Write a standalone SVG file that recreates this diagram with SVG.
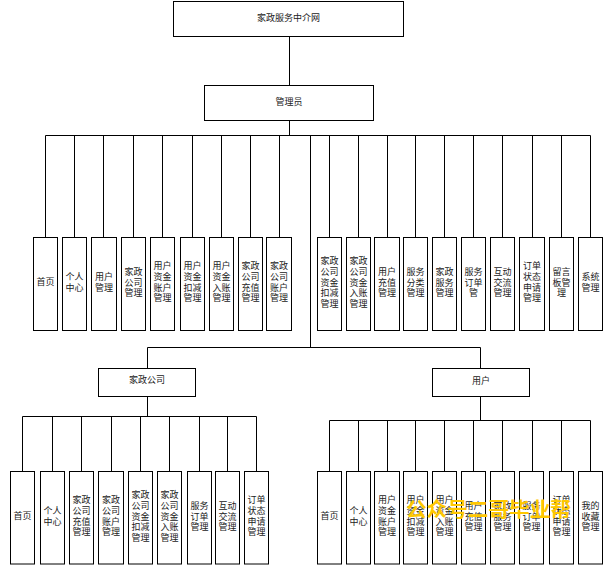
<svg xmlns="http://www.w3.org/2000/svg" width="605" height="566" viewBox="0 0 605 566">
<style>
rect{fill:#fff;stroke:#000;stroke-width:1}
text{font-family:"Noto Sans CJK SC","Noto Sans CJK TC",sans-serif;font-size:9px;fill:#222;text-anchor:middle;dominant-baseline:central}
#connectors path{fill:none;stroke:#000;stroke-width:1}
.wm{font-size:20px;font-weight:bold;fill:#ffc800;text-anchor:start;dominant-baseline:auto}
</style>
<rect x="0" y="0" width="605" height="566" style="stroke:none"/>
<g id="connectors">
<path d="M289.5 36.5V85.5M289.5 120.5V135.5M45.5 135.5H590.5"/>
<path d="M45.5 135.5V237.5M74.5 135.5V237.5M103.5 135.5V237.5M133.5 135.5V237.5M162.5 135.5V237.5M192.5 135.5V237.5M221.5 135.5V237.5M250.5 135.5V237.5M279.5 135.5V237.5M329.5 135.5V237.5M358.5 135.5V237.5M387.5 135.5V237.5M415.5 135.5V237.5M444.5 135.5V237.5M473.5 135.5V237.5M502.5 135.5V237.5M532.5 135.5V237.5M561.5 135.5V237.5M590.5 135.5V237.5"/>
<path d="M310.5 135.5V347.5M147.5 347.5H480.5M147.5 347.5V368.5M480.5 347.5V368.5"/>
<path d="M147.5 396.5V416.5M22.5 416.5H256.5M22.5 416.5V471.5M52.5 416.5V471.5M81.5 416.5V471.5M111.5 416.5V471.5M140.5 416.5V471.5M169.5 416.5V471.5M199.5 416.5V471.5M227.5 416.5V471.5M256.5 416.5V471.5"/>
<path d="M480.5 396.5V420.5M329.5 420.5H590.5M329.5 420.5V471.5M358.5 420.5V471.5M387.5 420.5V471.5M415.5 420.5V471.5M444.5 420.5V471.5M473.5 420.5V471.5M502.5 420.5V471.5M532.5 420.5V471.5M561.5 420.5V471.5M590.5 420.5V471.5"/>
</g>
<g id="root"><rect x="173.5" y="1.5" width="230" height="35"/><text x="288.5" y="17">家政服务中介网</text></g>
<g id="admin"><rect x="204.5" y="85.5" width="169" height="35"/><text x="289" y="101">管理员</text></g>
<g id="a1"><rect x="33.5" y="237.5" width="24" height="93"/><text x="45.5" y="281.5">首页</text></g>
<g id="a2"><rect x="62.5" y="237.5" width="24" height="93"/><text x="74.5" y="276.25">个人<tspan x="74.5" dy="10.5">中心</tspan></text></g>
<g id="a3"><rect x="91.5" y="237.5" width="25" height="93"/><text x="104" y="276.25">用户<tspan x="104" dy="10.5">管理</tspan></text></g>
<g id="a4"><rect x="121.5" y="237.5" width="24" height="93"/><text x="133.5" y="271">家政<tspan x="133.5" dy="10.5">公司</tspan><tspan x="133.5" dy="10.5">管理</tspan></text></g>
<g id="a5"><rect x="150.5" y="237.5" width="24" height="93"/><text x="162.5" y="265.75">用户<tspan x="162.5" dy="10.5">资金</tspan><tspan x="162.5" dy="10.5">账户</tspan><tspan x="162.5" dy="10.5">管理</tspan></text></g>
<g id="a6"><rect x="180.5" y="237.5" width="24" height="93"/><text x="192.5" y="265.75">用户<tspan x="192.5" dy="10.5">资金</tspan><tspan x="192.5" dy="10.5">扣减</tspan><tspan x="192.5" dy="10.5">管理</tspan></text></g>
<g id="a7"><rect x="209.5" y="237.5" width="24" height="93"/><text x="221.5" y="265.75">用户<tspan x="221.5" dy="10.5">资金</tspan><tspan x="221.5" dy="10.5">入账</tspan><tspan x="221.5" dy="10.5">管理</tspan></text></g>
<g id="a8"><rect x="238.5" y="237.5" width="24" height="93"/><text x="250.5" y="265.75">家政<tspan x="250.5" dy="10.5">公司</tspan><tspan x="250.5" dy="10.5">充值</tspan><tspan x="250.5" dy="10.5">管理</tspan></text></g>
<g id="a9"><rect x="266.5" y="237.5" width="25" height="93"/><text x="279" y="265.75">家政<tspan x="279" dy="10.5">公司</tspan><tspan x="279" dy="10.5">账户</tspan><tspan x="279" dy="10.5">管理</tspan></text></g>
<g id="a10"><rect x="317.5" y="237.5" width="24" height="93"/><text x="329.5" y="260.5">家政<tspan x="329.5" dy="10.5">公司</tspan><tspan x="329.5" dy="10.5">资金</tspan><tspan x="329.5" dy="10.5">扣减</tspan><tspan x="329.5" dy="10.5">管理</tspan></text></g>
<g id="a11"><rect x="346.5" y="237.5" width="24" height="93"/><text x="358.5" y="260.5">家政<tspan x="358.5" dy="10.5">公司</tspan><tspan x="358.5" dy="10.5">资金</tspan><tspan x="358.5" dy="10.5">入账</tspan><tspan x="358.5" dy="10.5">管理</tspan></text></g>
<g id="a12"><rect x="374.5" y="237.5" width="25" height="93"/><text x="387" y="271">用户<tspan x="387" dy="10.5">充值</tspan><tspan x="387" dy="10.5">管理</tspan></text></g>
<g id="a13"><rect x="403.5" y="237.5" width="24" height="93"/><text x="415.5" y="271">服务<tspan x="415.5" dy="10.5">分类</tspan><tspan x="415.5" dy="10.5">管理</tspan></text></g>
<g id="a14"><rect x="432.5" y="237.5" width="24" height="93"/><text x="444.5" y="271">家政<tspan x="444.5" dy="10.5">服务</tspan><tspan x="444.5" dy="10.5">管理</tspan></text></g>
<g id="a15"><rect x="461.5" y="237.5" width="24" height="93"/><text x="473.5" y="271">服务<tspan x="473.5" dy="10.5">订单</tspan><tspan x="473.5" dy="10.5">管</tspan></text></g>
<g id="a16"><rect x="490.5" y="237.5" width="24" height="93"/><text x="502.5" y="271">互动<tspan x="502.5" dy="10.5">交流</tspan><tspan x="502.5" dy="10.5">管理</tspan></text></g>
<g id="a17"><rect x="519.5" y="237.5" width="25" height="93"/><text x="532" y="265.75">订单<tspan x="532" dy="10.5">状态</tspan><tspan x="532" dy="10.5">申请</tspan><tspan x="532" dy="10.5">管理</tspan></text></g>
<g id="a18"><rect x="549.5" y="237.5" width="24" height="93"/><text x="561.5" y="271">留言<tspan x="561.5" dy="10.5">板管</tspan><tspan x="561.5" dy="10.5">理</tspan></text></g>
<g id="a19"><rect x="578.5" y="237.5" width="24" height="93"/><text x="590.5" y="276.25">系统<tspan x="590.5" dy="10.5">管理</tspan></text></g>
<g id="company"><rect x="98.5" y="368.5" width="97" height="28"/><text x="147" y="379.5">家政公司</text></g>
<g id="user"><rect x="432.5" y="368.5" width="97" height="28"/><text x="481" y="380">用户</text></g>
<g id="c1"><rect x="10.5" y="471.5" width="24" height="92.5"/><text x="22.5" y="515.5">首页</text></g>
<g id="c2"><rect x="40.5" y="471.5" width="24" height="92.5"/><text x="52.5" y="510.25">个人<tspan x="52.5" dy="10.5">中心</tspan></text></g>
<g id="c3"><rect x="69.5" y="471.5" width="24" height="92.5"/><text x="81.5" y="499.75">家政<tspan x="81.5" dy="10.5">公司</tspan><tspan x="81.5" dy="10.5">充值</tspan><tspan x="81.5" dy="10.5">管理</tspan></text></g>
<g id="c4"><rect x="98.5" y="471.5" width="25" height="92.5"/><text x="111" y="499.75">家政<tspan x="111" dy="10.5">公司</tspan><tspan x="111" dy="10.5">账户</tspan><tspan x="111" dy="10.5">管理</tspan></text></g>
<g id="c5"><rect x="128.5" y="471.5" width="24" height="92.5"/><text x="140.5" y="494.5">家政<tspan x="140.5" dy="10.5">公司</tspan><tspan x="140.5" dy="10.5">资金</tspan><tspan x="140.5" dy="10.5">扣减</tspan><tspan x="140.5" dy="10.5">管理</tspan></text></g>
<g id="c6"><rect x="157.5" y="471.5" width="24" height="92.5"/><text x="169.5" y="494.5">家政<tspan x="169.5" dy="10.5">公司</tspan><tspan x="169.5" dy="10.5">资金</tspan><tspan x="169.5" dy="10.5">入账</tspan><tspan x="169.5" dy="10.5">管理</tspan></text></g>
<g id="c7"><rect x="187.5" y="471.5" width="24" height="92.5"/><text x="199.5" y="505">服务<tspan x="199.5" dy="10.5">订单</tspan><tspan x="199.5" dy="10.5">管理</tspan></text></g>
<g id="c8"><rect x="215.5" y="471.5" width="24" height="92.5"/><text x="227.5" y="505">互动<tspan x="227.5" dy="10.5">交流</tspan><tspan x="227.5" dy="10.5">管理</tspan></text></g>
<g id="c9"><rect x="244.5" y="471.5" width="24" height="92.5"/><text x="256.5" y="499.75">订单<tspan x="256.5" dy="10.5">状态</tspan><tspan x="256.5" dy="10.5">申请</tspan><tspan x="256.5" dy="10.5">管理</tspan></text></g>
<g id="u1"><rect x="317.5" y="471.5" width="24" height="92.5"/><text x="329.5" y="515.5">首页</text></g>
<g id="u2"><rect x="346.5" y="471.5" width="24" height="92.5"/><text x="358.5" y="510.25">个人<tspan x="358.5" dy="10.5">中心</tspan></text></g>
<g id="u3"><rect x="374.5" y="471.5" width="25" height="92.5"/><text x="387" y="499.75">用户<tspan x="387" dy="10.5">资金</tspan><tspan x="387" dy="10.5">账户</tspan><tspan x="387" dy="10.5">管理</tspan></text></g>
<g id="u4"><rect x="403.5" y="471.5" width="24" height="92.5"/><text x="415.5" y="499.75">用户<tspan x="415.5" dy="10.5">资金</tspan><tspan x="415.5" dy="10.5">扣减</tspan><tspan x="415.5" dy="10.5">管理</tspan></text></g>
<g id="u5"><rect x="432.5" y="471.5" width="24" height="92.5"/><text x="444.5" y="499.75">用户<tspan x="444.5" dy="10.5">资金</tspan><tspan x="444.5" dy="10.5">入账</tspan><tspan x="444.5" dy="10.5">管理</tspan></text></g>
<g id="u6"><rect x="461.5" y="471.5" width="24" height="92.5"/><text x="473.5" y="505">用户<tspan x="473.5" dy="10.5">充值</tspan><tspan x="473.5" dy="10.5">管理</tspan></text></g>
<g id="u7"><rect x="490.5" y="471.5" width="24" height="92.5"/><text x="502.5" y="505">家政<tspan x="502.5" dy="10.5">服务</tspan><tspan x="502.5" dy="10.5">管理</tspan></text></g>
<g id="u8"><rect x="519.5" y="471.5" width="24" height="92.5"/><text x="531.5" y="505">服务<tspan x="531.5" dy="10.5">订单</tspan><tspan x="531.5" dy="10.5">管理</tspan></text></g>
<g id="u9"><rect x="549.5" y="471.5" width="24" height="92.5"/><text x="561.5" y="499.75">订单<tspan x="561.5" dy="10.5">状态</tspan><tspan x="561.5" dy="10.5">申请</tspan><tspan x="561.5" dy="10.5">管理</tspan></text></g>
<g id="u10"><rect x="578.5" y="471.5" width="24" height="92.5"/><text x="590.5" y="505">我的<tspan x="590.5" dy="10.5">收藏</tspan><tspan x="590.5" dy="10.5">管理</tspan></text></g>
<g id="watermark"><text class="wm" x="406" y="517" textLength="165" lengthAdjust="spacingAndGlyphs">公众号二哥毕业帮</text></g>
</svg>
